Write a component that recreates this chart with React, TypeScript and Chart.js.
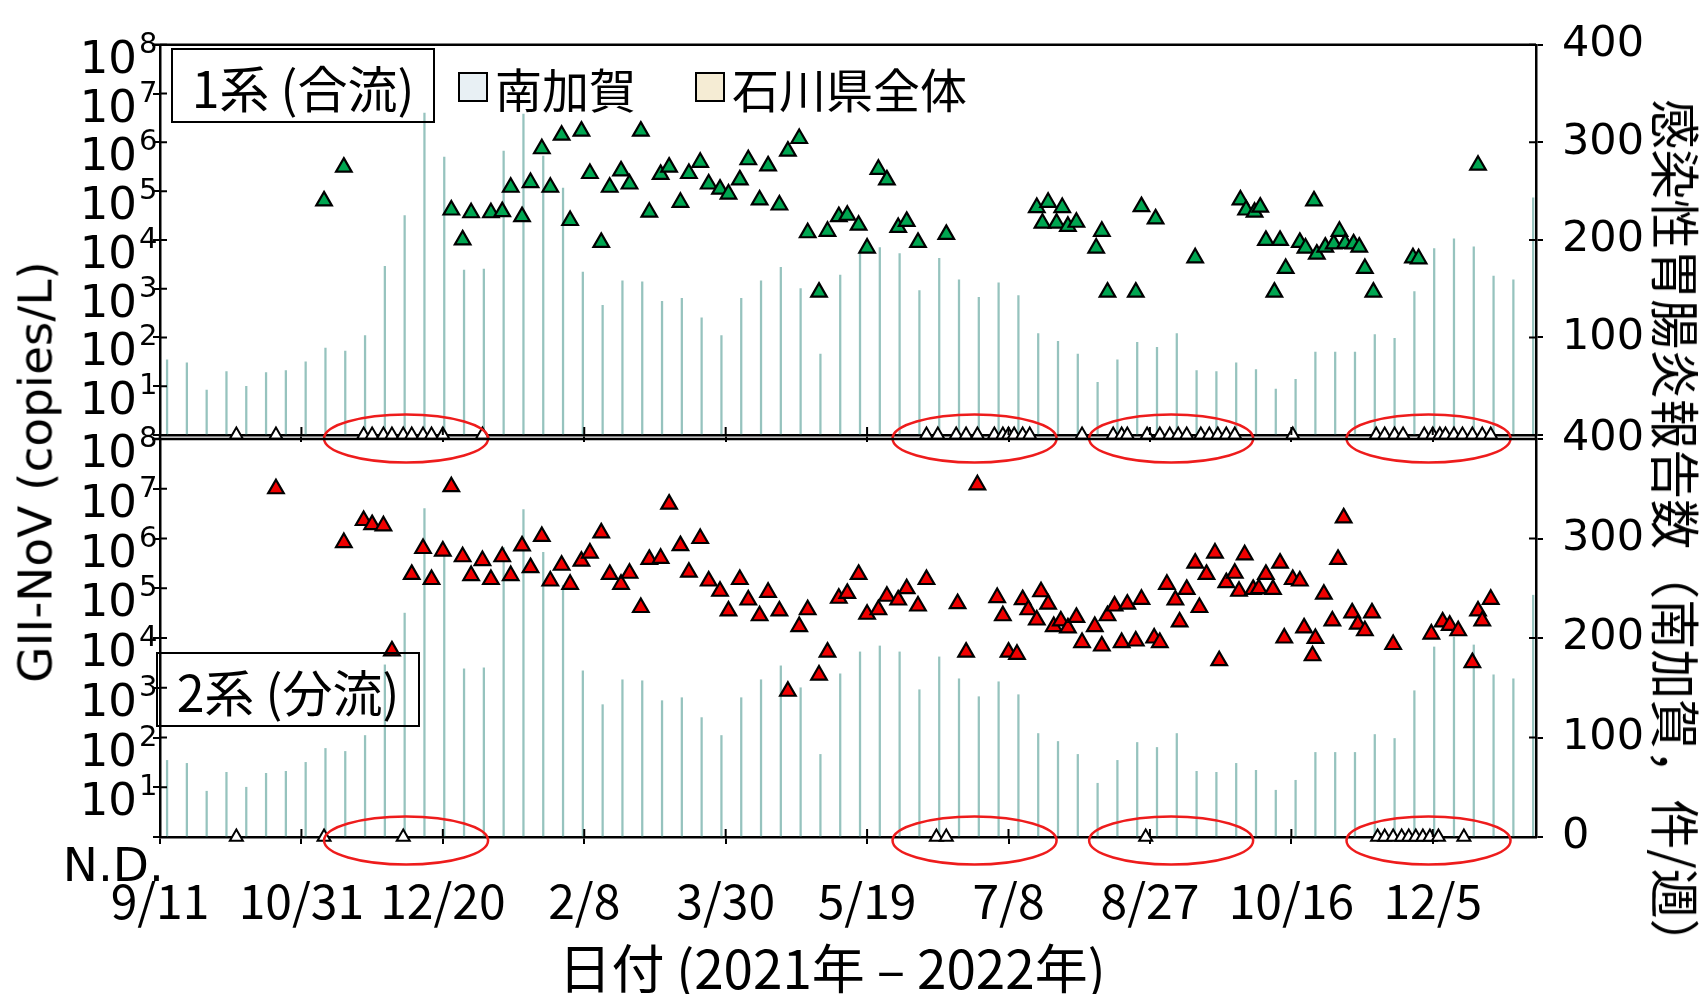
import { useEffect, useRef } from 'react';
import { Chart, registerables } from 'chart.js';

Chart.register(...registerables);

const W = 1701;
const H = 994;

// x values are days counted from 2021-09-11
const X_MAX = 486.5;
const tickDays = [0, 50, 100, 150, 200, 250, 300, 350, 400, 450];
const tickLabels = ['9/11', '10/31', '12/20', '2/8', '3/30', '5/19', '7/8', '8/27', '10/16', '12/5'];

// left axis decades (10^0 is the N.D. row) and right axis ticks
const decades = [0, 1, 2, 3, 4, 5, 6, 7, 8];
const countTicks = [0, 100, 200, 300, 400];
const ND_VALUE = 1;

// weekly infectious gastroenteritis reports, 南加賀 (件/週)
const reportCounts = [
  77, 74, 46, 65, 50, 64, 66, 75, 89, 86, 102, 173, 225, 330, 285, 169, 170, 291, 329, 286, 253, 167,
  133, 158, 157, 137, 140, 120, 102, 140, 158, 172, 150, 83, 164, 186, 192, 186, 148, 181, 159, 141, 156, 143,
  104, 96, 83, 54, 77, 95, 90, 104, 66, 65, 74, 67, 47, 57, 85, 85, 85, 103, 99, 147, 191, 201, 193, 163, 159, 243,
];
// one report per week
const reportDays = reportCounts.map((_, i) => 2.5 + 7 * i);

// 1系 (合流): [day, copies/L]
const line1Samples: [number, number][] = [
  [58, 63000], [65, 310000], [103, 41000], [107, 10000], [110, 36000], [117, 36000], [121, 38000],
  [124, 120000], [128, 30000], [131, 150000], [135, 740000], [138, 120000], [142, 1400000], [145, 25000],
  [149, 1700000], [152, 230000], [156, 8900], [159, 120000], [163, 260000], [166, 140000], [170, 1700000],
  [173, 37000], [177, 220000], [180, 310000], [184, 59000], [187, 230000], [191, 390000], [194, 140000],
  [198, 110000], [201, 87000], [205, 170000], [208, 440000], [212, 66000], [215, 330000], [219, 52000],
  [222, 660000], [226, 1200000], [229, 14000], [233, 850], [236, 15000], [240, 30000], [243, 32000],
  [247, 20000], [250, 6800], [254, 280000], [257, 170000], [261, 18000], [264, 24000], [268, 8900],
  [278, 13000], [310, 46000], [312, 22000], [314, 59000], [317, 22000], [319, 46000], [321, 19000],
  [324, 23000], [331, 6800], [333, 15000], [335, 850], [345, 850], [347, 48000], [352, 27000],
  [366, 4300], [382, 66000], [384, 41000], [387, 37000], [389, 47000], [391, 9800], [394, 850],
  [396, 9800], [398, 2600], [403, 8900], [405, 6800], [408, 63000], [409, 5100], [412, 7100],
  [415, 8300], [417, 15000], [419, 8500], [422, 8300], [424, 7100], [426, 2600], [429, 850],
  [443, 4300], [445, 4100], [466, 340000],
];
const line1NdDays = [
  27, 41, 72, 75, 79, 82, 86, 89, 93, 96, 100, 114,
  271, 275, 281.5, 285, 289, 295, 298, 300, 302, 305, 307.5, 326,
  337, 340, 342, 349, 353.5, 357, 360, 363, 368, 371, 374, 377, 380, 400.5,
  430, 433, 436.5, 439.5, 447, 450, 452.5, 454.5, 457.5, 460.5, 464, 467.5, 470.5,
];

// 2系 (分流): [day, copies/L]
const line2Samples: [number, number][] = [
  [41, 10000000], [65, 830000], [72, 2300000], [75, 1900000], [79, 1800000], [82, 5500], [89, 190000],
  [93, 630000], [96, 150000], [100, 560000], [103, 11000000], [107, 430000], [110, 180000], [114, 360000],
  [117, 150000], [121, 430000], [124, 180000], [128, 710000], [131, 260000], [135, 1100000], [138, 140000],
  [142, 290000], [145, 120000], [149, 350000], [152, 510000], [156, 1300000], [159, 190000], [163, 120000],
  [166, 200000], [170, 41000], [173, 380000], [177, 400000], [180, 4900000], [184, 720000], [187, 210000],
  [191, 1000000], [194, 140000], [198, 87000], [201, 35000], [205, 150000], [208, 58000], [212, 28000],
  [215, 83000], [219, 35000], [222, 850], [226, 17000], [229, 37000], [233, 1800], [236, 5200],
  [240, 63000], [243, 79000], [247, 190000], [250, 30000], [254, 37000], [257, 69000], [261, 58000],
  [264, 98000], [268, 44000], [271, 150000], [282, 49000], [285, 5200], [289, 12000000], [296, 65000],
  [298, 28000], [300, 5200], [303, 4700], [305, 59000], [307, 37000], [310, 23000], [311.5, 85000],
  [314, 48000], [316, 17000], [318.5, 22000], [321, 16000], [324, 26000], [326, 8100], [330.5, 17000],
  [333, 6900], [335, 28000], [337.5, 44000], [340, 8100], [342, 48000], [345, 8700], [347, 60000],
  [351.5, 10000], [353.5, 8100], [356, 120000], [359, 58000], [360.5, 21000], [363, 95000], [366, 320000],
  [367.5, 41000], [370, 190000], [373, 510000], [374.5, 3500], [377, 130000], [380, 200000], [381.5, 87000],
  [383.5, 470000], [386.5, 95000], [388.5, 98000], [391, 190000], [393.5, 95000], [396, 320000],
  [397.5, 10000], [400.5, 150000], [403, 140000], [404.5, 16000], [407.5, 4400], [408.5, 9800],
  [411.5, 76000], [414.5, 22000], [416.5, 380000], [418.5, 2600000], [421.5, 32000], [423.5, 19000],
  [426, 14000], [428.5, 32000], [436, 7400], [449.5, 12000], [453.5, 21000], [456, 18000], [459, 14000],
  [464, 3200], [466, 35000], [467.5, 22000], [470.5, 60000],
];
const line2NdDays = [27, 58, 86, 274.5, 278, 348.5, 430.5, 433, 436, 439, 441.5, 444, 446.5, 449, 452, 461];

// red rings around the N.D. runs: centre day, half-width in days
const ringCentres = [87, 288, 357.5, 448.5];
const RING_HALF_DAYS = 29;

const legendItems: [string, string][] = [['南加賀', '#e8f0f4'], ['石川県全体', '#f5ecd4']];

const BAR_COLOR = 'rgba(120,178,172,0.78)';
const GREEN = '#00a651';
const RED = '#f00000';
const SANS = '"DejaVu Sans", sans-serif';
const JP = '"Noto Sans CJK JP", sans-serif';

const panelPlugin = {
  id: 'panelFrame',
  afterDraw(chart: any, _args: any, opts: any) {
    const { ctx, chartArea } = chart;
    const { left, right, top, bottom } = chartArea;
    const xs = chart.scales.x;
    const yL = chart.scales.yL;
    const yR = chart.scales.yR;
    ctx.save();
    ctx.strokeStyle = '#000';
    ctx.lineWidth = 2.5;
    ctx.beginPath();
    ctx.moveTo(left - 8, top);
    ctx.lineTo(right, top);
    if (!opts.upper) {
      ctx.moveTo(left, top - 5);
      ctx.lineTo(left, top);
      ctx.moveTo(right, top - 5);
      ctx.lineTo(right, top);
    }
    ctx.stroke();

    // inward halves of the tick marks
    ctx.lineWidth = 2;
    ctx.beginPath();
    xs.ticks.forEach((t: any) => {
      const px = xs.getPixelForValue(t.value);
      ctx.moveTo(px, bottom);
      ctx.lineTo(px, bottom - 8);
    });
    yL.ticks.forEach((t: any) => {
      const py = yL.getPixelForValue(t.value);
      ctx.moveTo(left, py);
      ctx.lineTo(left + 7, py);
    });
    yR.ticks.forEach((t: any) => {
      const py = yR.getPixelForValue(t.value);
      ctx.moveTo(right, py);
      ctx.lineTo(right - 7, py);
    });
    ctx.stroke();

    // decade labels 10^k
    ctx.fillStyle = '#000';
    decades.forEach((k) => {
      if (k === 0) return;
      const py = yL.getPixelForValue(10 ** k);
      ctx.font = `45px ${SANS}`;
      ctx.textAlign = 'right';
      ctx.textBaseline = 'alphabetic';
      ctx.fillText('10', 137, py + 28);
      ctx.font = `29px ${SANS}`;
      ctx.textAlign = 'left';
      ctx.fillText(String(k), 139, py + 8);
    });
    if (!opts.upper) {
      const py = yL.getPixelForValue(ND_VALUE);
      ctx.font = `47px ${SANS}`;
      ctx.textAlign = 'right';
      ctx.fillText('N.D.', 164, py + 44);
    }

    // rings around the N.D. runs
    ctx.strokeStyle = '#ee1c1c';
    ctx.lineWidth = 2.5;
    ringCentres.forEach((c) => {
      const x0 = xs.getPixelForValue(c - RING_HALF_DAYS);
      const x1 = xs.getPixelForValue(c + RING_HALF_DAYS);
      ctx.beginPath();
      ctx.ellipse((x0 + x1) / 2, bottom + 3.5, (x1 - x0) / 2, 24, 0, 0, Math.PI * 2);
      ctx.stroke();
    });
    ctx.restore();
  },
};

function buildConfig(upper: boolean): any {
  const samples = upper ? line1Samples : line2Samples;
  const ndDays = upper ? line1NdDays : line2NdDays;
  const bottomPx = upper ? 435 : 837;
  return {
    type: 'scatter',
    data: {
      datasets: [
        {
          type: 'bar',
          label: '南加賀',
          data: reportDays.map((d, i) => ({ x: d, y: reportCounts[i] })),
          yAxisID: 'yR',
          backgroundColor: BAR_COLOR,
          borderWidth: 0,
          barThickness: 1.6,
          grouped: false,
          order: 3,
        },
        {
          label: upper ? '1系 (合流)' : '2系 (分流)',
          data: samples.map(([d, v]) => ({ x: d, y: v })),
          yAxisID: 'yL',
          pointStyle: 'triangle',
          pointRadius: 9,
          pointBackgroundColor: upper ? GREEN : RED,
          pointBorderColor: '#000',
          pointBorderWidth: 2.2,
          showLine: false,
          order: 1,
          clip: false,
        },
        {
          label: 'N.D.',
          data: ndDays.map((d) => ({ x: d, y: ND_VALUE })),
          yAxisID: 'yL',
          pointStyle: 'triangle',
          pointRadius: 7.5,
          pointBackgroundColor: '#fff',
          pointBorderColor: '#000',
          pointBorderWidth: 2,
          showLine: false,
          order: 2,
          clip: false,
        },
      ],
    },
    options: {
      responsive: false,
      devicePixelRatio: 1,
      animation: false,
      events: [],
      layout: { padding: { top: upper ? 37 : 439, left: 0, right: 0, bottom: 0 } },
      plugins: {
        legend: { display: false },
        tooltip: { enabled: false },
        panelFrame: { upper },
      },
      scales: {
        x: {
          type: 'linear',
          min: 0,
          max: X_MAX,
          offset: false,
          afterBuildTicks: (s: any) => {
            s.ticks = tickDays.map((v) => ({ value: v }));
          },
          afterFit: (s: any) => {
            s.height = H - bottomPx;
          },
          ticks: {
            display: !upper,
            autoSkip: false,
            maxRotation: 0,
            padding: 28,
            color: '#000',
            font: { family: JP, size: 48 },
            callback: (_v: any, i: number) => tickLabels[i],
          },
          grid: { drawOnChartArea: false, drawTicks: true, tickLength: 7, color: '#000', lineWidth: 2, offset: false },
          border: { display: true, color: '#000', width: 2.5 },
        },
        yL: {
          type: 'logarithmic',
          position: 'left',
          min: 1,
          max: 1e8,
          afterBuildTicks: (s: any) => {
            s.ticks = decades.map((k) => ({ value: 10 ** k }));
          },
          afterFit: (s: any) => {
            s.width = 160;
          },
          ticks: { display: false },
          grid: { drawOnChartArea: false, drawTicks: true, tickLength: 7, color: '#000', lineWidth: 2 },
          border: { display: true, color: '#000', width: 2.5 },
        },
        yR: {
          type: 'linear',
          position: 'right',
          min: 0,
          max: 400,
          afterBuildTicks: (s: any) => {
            s.ticks = countTicks.map((v) => ({ value: v }));
          },
          afterFit: (s: any) => {
            s.width = W - 1536;
          },
          ticks: {
            padding: 19,
            color: '#000',
            font: { family: SANS, size: 43 },
            callback: (v: any) => (upper && v === 0 ? '' : String(v)),
          },
          grid: { drawOnChartArea: false, drawTicks: true, tickLength: 7, color: '#000', lineWidth: 2 },
          border: { display: true, color: '#000', width: 2.5 },
        },
      },
    },
    plugins: [panelPlugin],
  };
}

const abs = (extra: any) => ({ position: 'absolute', margin: 0, whiteSpace: 'nowrap', color: '#000', ...extra });

export default function App() {
  const upperRef = useRef<HTMLCanvasElement>(null);
  const lowerRef = useRef<HTMLCanvasElement>(null);

  useEffect(() => {
    const upper = new Chart(upperRef.current as HTMLCanvasElement, buildConfig(true));
    const lower = new Chart(lowerRef.current as HTMLCanvasElement, buildConfig(false));
    return () => {
      upper.destroy();
      lower.destroy();
    };
  }, []);

  const boxStyle = (left: number, top: number) =>
    abs({
      left,
      top,
      width: 264,
      height: 75,
      border: '2px solid #000',
      boxSizing: 'border-box',
      display: 'flex',
      alignItems: 'center',
      justifyContent: 'center',
      fontFamily: JP,
      fontSize: 50,
      lineHeight: 1,
    });

  return (
    <div style={{ position: 'absolute', left: 0, top: 0, width: W, height: H, background: '#fff', overflow: 'hidden' }}>
      <canvas ref={upperRef} width={W} height={H} style={{ position: 'absolute', left: 0, top: 0 }} />
      <canvas ref={lowerRef} width={W} height={H} style={{ position: 'absolute', left: 0, top: 0 }} />

      <div style={boxStyle(171, 48)}>1系 (合流)</div>
      <div style={boxStyle(156, 652)}>2系 (分流)</div>

      {legendItems.map(([name, fill], i) => {
        const x0 = i === 0 ? 458 : 695;
        return (
          <div key={name}>
            <div style={abs({ left: x0, top: 72, width: 30, height: 30, border: '2px solid #000', boxSizing: 'border-box', background: fill })} />
            <div style={abs({ left: x0 + 37, top: 87, transform: 'translateY(-50%)', fontFamily: JP, fontSize: 47, lineHeight: 1 })}>{name}</div>
          </div>
        );
      })}

      <div style={abs({ left: 35, top: 472, transform: 'translate(-50%, -50%) rotate(-90deg)', fontFamily: SANS, fontSize: 47, lineHeight: 1 })}>
        GII-NoV (copies/L)
      </div>
      <div style={abs({ left: 1678, top: 534, transform: 'translate(-50%, -50%) rotate(90deg)', fontFamily: JP, fontSize: 50, lineHeight: 1 })}>
        感染性胃腸炎報告数（南加賀，件/週）
      </div>
      <div style={abs({ left: 832, top: 966, transform: 'translate(-50%, -50%)', fontFamily: JP, fontSize: 53, lineHeight: 1 })}>
        日付 (2021年 – 2022年)
      </div>
    </div>
  );
}
